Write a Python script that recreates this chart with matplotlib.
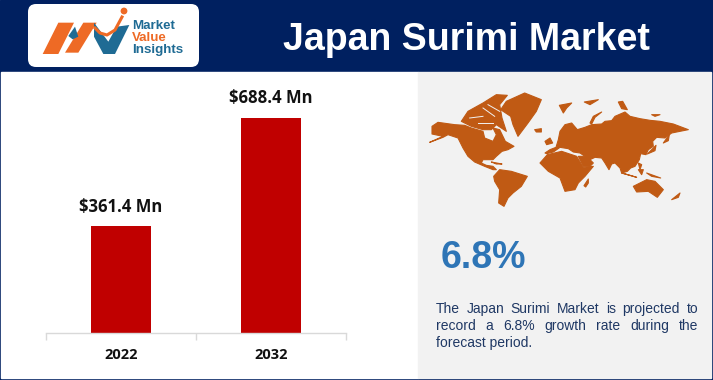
import matplotlib
matplotlib.use("Agg")
import matplotlib.pyplot as plt
from matplotlib.patches import FancyBboxPatch, Polygon, Rectangle, Circle

plt.rcParams['font.family'] = ['Liberation Sans', 'DejaVu Sans']

# chart data
years = ['2022', '2032']
values = [342, 688.4]  # bar heights as drawn in the picture
labels = ['$361.4 Mn', '$688.4 Mn']

title = 'Japan Surimi Market'
cagr = '6.8%'
note_lines = ['The Japan Surimi Market is projected to',
              'record a 6.8% growth rate during the',
              'forecast period.']

navy = '#002060'
red = '#C00000'
panel = '#F2F2F2'
map_color = '#C05A14'
blue = '#2E75B6'
logo_orange = '#EE6A25'
logo_blue = '#1F6B94'

# rough world outline, traced on 3x crops of the map region
americas = [
    [(5,163),(45,145),(12,138),(12,115),(30,103),(80,110),(110,112),(130,120),(165,130),(170,150),(195,160),(205,140),(195,120),(215,125),(232,160),(258,175),(240,185),(222,190),(205,205),(195,215),(165,215),(160,225),(175,232),(195,235),(205,245),(195,245),(170,235),(140,222),(120,205),(105,180),(90,150),(60,140),(45,148)],
    [(100,100),(120,70),(165,45),(205,20),(238,22),(215,50),(222,90),(235,130),(205,110),(190,125),(165,125),(130,115)],
    [(218,65),(235,40),(290,15),(340,35),(325,70),(300,105),(270,145),(255,110),(248,85)],
    [(320,125),(340,122),(340,132),(325,132)],
    [(197,265),(215,245),(250,250),(298,265),(280,295),(255,315),(240,330),(228,355),(212,345),(215,305),(200,280)],
    [(190,222),(222,228),(205,228)],
]
arctic_gaps = [
    [(125,90),(165,85)],
    [(165,60),(200,85)],
    [(180,50),(215,70)],
    [(150,105),(195,105)],
]
old_world = [
    [(15,195),(30,185),(48,178),(55,155),(60,130),(75,110),(95,105),(112,125),(135,118),(155,110),(185,108),(195,100),(215,98),(225,85),(255,72),(270,85),(300,92),(330,97),(360,100),(400,108),(445,125),(420,130),(395,135),(375,150),(350,148),(338,160),(340,175),(325,185),(318,200),(302,197),(298,215),(285,235),(272,240),(262,250),(245,255),(240,240),(225,225),(215,228),(207,245),(195,225),(185,210),(165,208),(150,215),(135,205),(120,195),(100,192),(85,182),(60,178),(40,192),(20,197)],
    [(0,225),(22,200),(65,190),(110,205),(130,238),(160,235),(135,265),(115,285),(105,305),(75,310),(60,270),(25,250)],
    [(115,205),(130,235),(150,235),(160,225),(140,205)],
    [(132,293),(145,273),(145,285),(137,297)],
    [(15,160),(30,150),(38,165),(20,170)],
    [(150,105),(160,85),(185,72),(165,88),(155,108)],
    [(58,52),(95,45),(80,60),(70,75)],
    [(133,42),(175,35),(150,50)],
    [(235,42),(248,40),(262,65),(245,62)],
    [(335,80),(360,80),(345,85)],
    [(370,165),(388,140),(385,158)],
    [(322,198),(348,172),(345,188)],
    [(245,255),(290,268),(270,262)],
    [(295,245),(310,245),(305,260)],
    [(295,225),(305,230),(300,245)],
    [(320,255),(362,270),(335,265)],
    [(280,295),(320,275),(345,280),(370,305),(352,328),(325,310),(290,312)],
    [(395,335),(420,315),(415,328)],
]

fig = plt.figure(figsize=(7.13, 3.80), dpi=100)

# page layer in pixel coordinates
bg = fig.add_axes([0, 0, 1, 1])
bg.set_xlim(0, 713)
bg.set_ylim(380, 0)
bg.axis('off')
bg.add_patch(Rectangle((0, 0), 713, 380, color=navy))
bg.add_patch(Rectangle((1, 72), 417, 306, color='white'))
bg.add_patch(Rectangle((418, 72), 293, 306, color=panel))

bg.text(466, 50, title, color='white', fontsize=27, fontweight='bold',
        ha='center', va='baseline')

# logo
bg.add_patch(FancyBboxPatch((28, 4), 171, 63, boxstyle='round,pad=0,rounding_size=8',
                            fc='white', ec='none'))
for pts, col in [([(128,162),(175,68),(222,68),(175,162)], logo_orange),
                 ([(195,158),(250,68),(290,68),(235,158)], logo_orange),
                 ([(205,108),(225,80),(235,110),(218,118)], logo_blue),
                 ([(282,68),(325,125),(350,80),(388,75),(345,162),(310,162),(282,110)], logo_blue)]:
    bg.add_patch(Polygon([(x/3, y/3) for x, y in pts], closed=True, color=col, lw=0))
bg.plot([95, 100, 107, 115, 122], [28, 33, 35, 30, 17], color=logo_orange, lw=2.2)
bg.add_patch(Circle((124, 11), 3.4, color=logo_orange, lw=0))
for y, word, col in [(26, 'Market', logo_blue), (38, 'Value', logo_orange), (50, 'Insights', logo_blue)]:
    bg.text(132, y, word, color=col, fontsize=9.6, fontweight='bold', va='center')

# world map
for pts in americas:
    bg.add_patch(Polygon([(428 + x/3, 88 + y/3) for x, y in pts], closed=True,
                         fc=map_color, ec=map_color, lw=0.8, joinstyle='round'))
for pts in arctic_gaps:
    bg.plot([428 + x/3 for x, y in pts], [88 + y/3 for x, y in pts], color=panel, lw=0.7)
for pts in old_world:
    bg.add_patch(Polygon([(540 + x/3, 88 + y/3) for x, y in pts], closed=True,
                         fc=map_color, ec=map_color, lw=0.8, joinstyle='round'))

bg.text(441, 268, cagr, color=blue, fontsize=27, fontweight='bold', va='baseline')

# justified note text
fig.canvas.draw()
rend = fig.canvas.get_renderer()
note_y = [309, 326, 343]
note_size = 10
for k, line in enumerate(note_lines):
    if k == len(note_lines) - 1:
        bg.text(436, note_y[k], line, color='#1F3864', fontsize=note_size, va='center')
        continue
    words = line.split()
    items = [bg.text(436, note_y[k], w, color='#1F3864', fontsize=note_size, va='center') for w in words]
    widths = [t.get_window_extent(rend).width for t in items]
    gap = (698 - 436 - sum(widths)) / (len(words) - 1)
    x = 436
    for t, w in zip(items, widths):
        t.set_x(x)
        x += w + gap

# bar chart
ax = fig.add_axes([46/713, 1 - 333/380, 300/713, 215/380])
ax.patch.set_alpha(0)
ax.bar(years, values, width=0.4, color=red)
ax.set_xlim(-0.5, 1.5)
ax.set_ylim(0, 688.4)
for i, lab in enumerate(labels):
    ax.annotate(lab, (i, values[i]), xytext=(0, 10.5), textcoords='offset points', ha='center',
                fontsize=12, fontweight='bold', color='#111111',
                family=['Open Sans', 'DejaVu Sans'], annotation_clip=False)
for s in ['top', 'left', 'right']:
    ax.spines[s].set_visible(False)
ax.spines['bottom'].set_color('#D9D9D9')
ax.spines['bottom'].set_linewidth(1)
ax.set_yticks([])
ax.set_xticks([-0.5, 0.5, 1.5])
ax.set_xticklabels([])
ax.tick_params(axis='x', length=5, color='#D9D9D9', width=1)
for i, yr in enumerate(years):
    ax.annotate(yr, (i, 0), xytext=(0, -22), textcoords='offset pixels', ha='center', va='center',
                fontsize=10.5, fontweight='bold', color='#111111',
                family=['Open Sans', 'DejaVu Sans'], annotation_clip=False)

fig.savefig('out.png', dpi=100)
